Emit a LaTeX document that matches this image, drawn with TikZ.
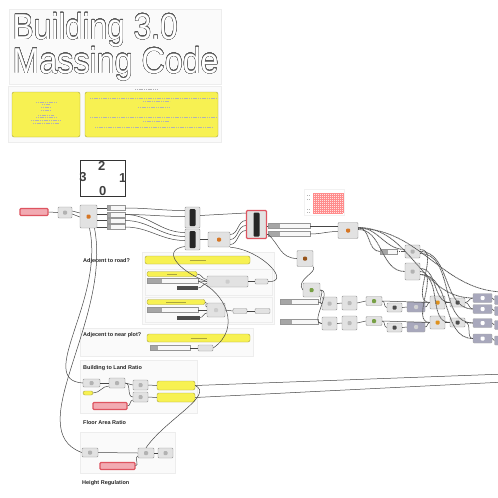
\documentclass[tikz,border=0pt]{standalone}
\usepackage{graphicx}
\usepackage{fontspec}
\setmainfont{Liberation Sans}
\usepackage[copies]{contour}
\contourlength{0.3pt}
\contournumber{24}

\definecolor{ghyellow}{RGB}{247,241,82}
\definecolor{ghyellowd}{RGB}{170,165,60}
\definecolor{ghgray}{RGB}{226,226,226}
\definecolor{ghedge}{RGB}{150,150,150}
\definecolor{ghred}{RGB}{222,84,96}
\definecolor{ghpink}{RGB}{242,170,178}
\definecolor{ghorange}{RGB}{214,118,36}
\definecolor{ghpurple}{RGB}{168,168,188}
\definecolor{ghgreen}{RGB}{120,160,70}

\tikzset{
  comp/.style={draw=ghedge, fill=ghgray, rounded corners=1pt, inner sep=0pt, line width=0.4pt},
  icon/.style={path picture={\fill[#1] ([xshift=-2pt,yshift=-2pt]path picture bounding box.center)
      rectangle ([xshift=2pt,yshift=2pt]path picture bounding box.center);}},
  stack/.style={comp, path picture={\fill[black!85] ([xshift=-3pt,yshift=-2pt]path picture bounding box.north)
      rectangle ([xshift=3pt,yshift=2pt]path picture bounding box.south);}},
  slider/.style={draw=ghedge, fill=gray!6, inner sep=0pt, minimum height=5pt,
    path picture={\fill[gray!70] (path picture bounding box.south west)
      rectangle ([xshift=#1]path picture bounding box.north west);}},
  slider/.default=12pt,
  redslider/.style={draw=ghred, line width=1.2pt, fill=ghpink, rounded corners=1pt, inner sep=0pt, minimum height=7pt},
  ybar/.style={draw=ghyellowd, fill=ghyellow, rounded corners=2pt, inner sep=0pt, line width=0.4pt,
    path picture={\draw[ghyellowd, line width=0.5pt] ([xshift=-#1]path picture bounding box.center)
      -- ([xshift=#1]path picture bounding box.center);}},
  ybar/.default=8pt,
  pbox/.style={comp, fill=ghpurple, draw=gray!70},
  grp/.style={draw=gray!14, fill=gray!4, line width=0.4pt},
  txt/.style={draw=gray!60, line width=0.4pt, dash pattern=on 1.2pt off 0.6pt},
  wire/.style={draw=gray!55!black, line width=0.5pt},
  treewire/.style={draw=black!65, line width=0.8pt, dash pattern=on 1.2pt off 0.5pt},
  lbl/.style={font=\bfseries\fontsize{5.5}{6}\selectfont, anchor=base west, inner sep=0pt, text=black!85},
  title/.style={font=\fontsize{36}{38}\selectfont, anchor=base west, inner sep=0pt, text=white},
  digit/.style={font=\bfseries\fontsize{13}{13}\selectfont, inner sep=0pt, text=black!75}
}

\begin{document}
\begin{tikzpicture}[x=1pt,y=-1pt]
  \useasboundingbox (0,0) rectangle (498,498);
  \fill[white] (0,0) rectangle (498,498);

  % groups
  \path[grp] (9,9) rectangle (221,84);
  \path[grp] (8,86) rectangle (221,142);
  \path[grp] (142,252) rectangle (274,324);
  \path[grp] (145,269) rectangle (272,295);
  \path[grp] (145,297) rectangle (272,322);
  \path[grp] (80,328) rectangle (253,356);
  \path[grp] (80,360) rectangle (197,413);
  \path[grp] (80,432) rectangle (175,473);

  % title
  \node[title] (head1) at (12.5,39) {\resizebox{165pt}{\height}{\contour{black!65}{Building 3.0}}};
  \node[title] (head2) at (12.5,73) {\resizebox{206pt}{\height}{\contour{black!65}{Massing Code}}};

  % notes
  \node[ybar=0pt, minimum width=68pt, minimum height=45pt] (note1) at (46,114.5) {};
  \node[ybar=0pt, minimum width=133pt, minimum height=45pt] (note2) at (151.5,114.5) {};
  \foreach \y/\a/\b in {102/36/56, 104/42/50, 107/41/51, 110/41/51,
                        115/38/54, 117/36/56, 120/31/61, 123/33/59}
    \draw[txt] (\a,\y) -- (\b,\y);
  \foreach \y/\a/\b in {89/135/157, 98/90/217, 101/143/170, 107/138/170,
                        117/90/217, 121/143/170, 127/95/213}
    \draw[txt] (\a,\y) -- (\b,\y);

  % plot sides
  \node[draw=black!80, line width=0.8pt, minimum width=45pt, minimum height=36pt] (plot) at (102.5,178) {};
  \node[digit] (side2) at (101.7,165.5) {2};
  \node[digit] (side3) at (83,177.5) {3};
  \node[digit] (side1) at (122.7,178.5) {1};
  \node[digit] (side0) at (102.7,191) {0};

  % top row
  \begin{scope}
    \node[redslider, minimum width=28pt] (rs1) at (34,212) {};
    \node[comp, icon=gray!60, minimum width=14pt, minimum height=11pt] (c1) at (65,212.5) {};
    \node[comp, icon=ghorange, minimum width=17pt, minimum height=23pt] (c2) at (88.5,216.5) {};
    \node[slider=4pt, minimum width=18pt] (p1) at (116,208) {};
    \node[slider=4pt, minimum width=18pt] (p2) at (116,214.5) {};
    \node[slider=4pt, minimum width=18pt] (p3) at (116,220.5) {};
    \node[slider=4pt, minimum width=18pt] (p4) at (116,227) {};
    \node[stack, minimum width=15pt, minimum height=21pt] (s1) at (192.5,217.5) {};
    \node[stack, minimum width=15pt, minimum height=21pt] (s2) at (192.5,239.5) {};
    \node[comp, icon=ghorange, minimum width=22pt, minimum height=15pt] (c3) at (219,239.5) {};
    \node[stack, draw=ghred, line width=1.3pt, minimum width=20pt, minimum height=28pt] (r1) at (256.5,224.5) {};
    \node[slider, minimum width=42pt] (lp1) at (289,226) {};
    \node[slider, minimum width=42pt] (lp2) at (289,234) {};
    \node[comp, icon=ghorange, minimum width=20pt, minimum height=16pt] (c4) at (348,230.5) {};
    \node[draw=gray!10, fill=white, minimum width=40pt, minimum height=26pt] (g1) at (324,202.5) {};
    \fill[red!12] (313,193) rectangle (343,213);
    \foreach \k in {0,...,15} \draw[red!45, line width=0.3pt] (313+2*\k,193) -- (313+2*\k,213);
    \foreach \k in {0,...,10} \draw[red!45, line width=0.3pt] (313,193+2*\k) -- (343,193+2*\k);
    \foreach \y in {195,199,209,212} \draw[txt] (307,\y) -- (310,\y);
    \node[comp, icon=ghorange!70!black, minimum width=16pt, minimum height=16pt] (c5) at (305,258.5) {};
    \node[comp, icon=ghgreen, minimum width=17pt, minimum height=14pt] (c6) at (311.5,290) {};
    \node[slider=8pt, minimum width=17pt] (sl3) at (388.5,251.5) {};
    \node[comp, icon=gray!60, minimum width=15pt, minimum height=13pt] (t1) at (412.5,251.5) {};
    \node[comp, icon=gray!60, minimum width=15pt, minimum height=17pt] (t2) at (412.5,271.5) {};
  \end{scope}

  % rows
  \foreach \r/\dy in {a/0,b/20} {
    \node[slider, minimum width=38pt] (\r0) at (299,302+\dy) {};
    \node[comp, icon=gray!55, minimum width=15pt, minimum height=13pt] (\r1) at (329.5,303.5+\dy) {};
    \node[comp, icon=gray!55, minimum width=15pt, minimum height=14pt] (\r2) at (349.5,303+\dy) {};
    \node[comp, icon=ghgreen, minimum width=16pt, minimum height=9pt] (\r3) at (374,301+\dy) {};
    \node[comp, icon=gray!60!black, minimum width=15pt, minimum height=9pt] (\r4) at (394.5,307.5+\dy) {};
    \node[pbox, icon=gray!35, minimum width=18pt, minimum height=10pt] (\r5) at (416,307+\dy) {};
    \node[comp, icon=ghorange!80!yellow, minimum width=15pt, minimum height=13pt] (\r6) at (437.5,302.5+\dy) {};
    \node[comp, icon=gray!60!black, minimum width=15pt, minimum height=9pt] (\r7) at (457.5,302.5+\dy) {};
    \path (\r0.east) edge[wire] (\r1.west)
          (\r1.east) edge[wire] (\r2.west)
          (\r2.east) edge[wire, out=0, in=180] (\r3.west)
          (\r3.east) edge[wire] (\r6.west)
          (\r3.east) edge[wire, out=0, in=180] (\r4.west)
          (\r4.east) edge[wire] (\r5.west)
          (\r5.east) edge[wire, out=0, in=180] (\r6.west)
          (\r6.east) edge[wire, out=0, in=180] (\r7.west);
  }
  \foreach \n/\y in {1/298,2/309,3/323,4/338.5} {
    \node[pbox, icon=white, minimum width=19pt, minimum height=9pt] (rb\n) at (482.5,\y) {};
    \node[pbox, minimum width=19pt, minimum height=9pt] (rx\n) at (504,\y+2) {};
  }

  % adjacent to road
  \node[lbl] (lroad) at (83,262) {Adjecent to road?};
  \node[ybar, minimum width=105pt, minimum height=8pt] (y1) at (197.5,260) {};
  \node[ybar=5pt, minimum width=50pt, minimum height=5pt] (y2) at (172,274) {};
  \node[slider=15pt, minimum width=51pt] (s3) at (172.5,281) {};
  \node[comp, icon=gray!40, minimum width=41pt, minimum height=11pt] (d1) at (227.5,281.5) {};
  \node[comp, minimum width=13pt, minimum height=5pt] (e1) at (261.5,281.5) {};
  \node[fill=gray!60!black, inner sep=0pt, minimum width=21pt, minimum height=4pt] (k1) at (187.5,288) {};
  \node[ybar=10pt, minimum width=58pt, minimum height=5pt] (y3) at (176,302) {};
  \node[slider=15pt, minimum width=51pt] (s4) at (172.5,310) {};
  \node[comp, icon=gray!40, minimum width=18pt, minimum height=14pt] (d2) at (216,310) {};
  \node[comp, minimum width=14pt, minimum height=5pt] (e2) at (240,311) {};
  \node[comp, minimum width=15pt, minimum height=5pt] (e3) at (262.5,311) {};
  \node[fill=gray!60!black, inner sep=0pt, minimum width=23pt, minimum height=4pt] (k2) at (188.5,317.5) {};

  % adjacent to near plot
  \node[lbl] (lnear) at (83,336) {Adjecent to near plot?};
  \node[ybar, minimum width=103pt, minimum height=8pt] (y4) at (198.5,338) {};
  \node[slider=8pt, minimum width=40pt] (s5) at (170,348) {};
  \node[comp, minimum width=15pt, minimum height=6pt] (e4) at (205.5,348) {};

  % building to land ratio
  \node[lbl] (lland) at (83,369) {Building to Land Ratio};
  \node[comp, icon=gray!60, minimum width=17pt, minimum height=8pt] (f1) at (91.5,383) {};
  \node[ybar=0pt, minimum width=10pt, minimum height=4pt] (yb) at (88,393) {};
  \node[comp, icon=gray!60, minimum width=16pt, minimum height=10pt] (f2) at (117,383) {};
  \node[comp, icon=gray!60, minimum width=15pt, minimum height=10pt] (f3) at (140.5,385) {};
  \node[comp, icon=gray!60, minimum width=15pt, minimum height=10pt] (f4) at (140.5,397) {};
  \node[ybar=0pt, minimum width=38pt, minimum height=9pt] (yp1) at (176,385.5) {};
  \node[ybar=0pt, minimum width=38pt, minimum height=9pt] (yp2) at (176,397.5) {};
  \node[redslider, minimum width=34pt] (rs2) at (110,406) {};

  % floor area ratio
  \node[lbl] (lfloor) at (83,424) {Floor Area Ratio};
  \node[comp, icon=gray!60, minimum width=16pt, minimum height=9pt] (h1) at (90,452.5) {};
  \node[comp, icon=gray!60, minimum width=16pt, minimum height=10pt] (h2) at (146,453) {};
  \node[comp, icon=gray!60, minimum width=15pt, minimum height=10pt] (h3) at (165.5,453) {};
  \node[redslider, minimum width=35pt] (rs3) at (117.5,466) {};

  \node[lbl] (lheight) at (82,484) {Height Regulation};

  \coordinate (out1) at (505,374);
  \coordinate (out2) at (505,382);
  \coordinate (out3) at (505,292);

  % wires top row
  \path (rs1.east) edge[wire] (c1.west)
        ([yshift=1.5pt]c1.east) edge[wire] ([yshift=3.5pt]c2.west)
        ([yshift=-1.5pt]c1.east) edge[wire] ([yshift=-0.5pt]c2.west)
        ([yshift=8.5pt]c2.east) edge[wire] (p1.west)
        ([yshift=2pt]c2.east) edge[wire] (p2.west)
        ([yshift=-4pt]c2.east) edge[wire] (p3.west)
        ([yshift=-10.5pt]c2.east) edge[wire] (p4.west)
        (p1.east) edge[wire, out=0, in=180] ([yshift=7pt]s1.west)
        (p2.east) edge[wire, out=0, in=180] ([yshift=1pt]s1.west)
        (p2.east) edge[wire, out=0, in=180] ([yshift=7pt]s2.west)
        (p3.east) edge[wire, out=0, in=180] ([yshift=3pt]s2.west)
        (p4.east) edge[wire, out=0, in=180] ([yshift=-1pt]s2.west)
        ([yshift=2pt]s1.east) edge[wire] ([yshift=11.5pt]r1.west)
        (s2.east) edge[wire] (c3.west)
        ([yshift=5pt]c3.east) edge[wire, out=0, in=180] ([yshift=4pt]r1.west)
        (c3.east) edge[wire, out=0, in=180] ([yshift=-1pt]r1.west)
        ([yshift=-5pt]c3.east) edge[wire, out=0, in=180] ([yshift=-6pt]r1.west)
        ([yshift=-1.5pt]r1.east) edge[wire] (lp1.west)
        ([yshift=-9.5pt]r1.east) edge[wire] (lp2.west)
        (lp1.east) edge[wire] ([yshift=4.5pt]c4.west)
        (lp2.east) edge[wire, out=0, in=180] ([yshift=-1pt]c4.west)
        (c6.east) edge[wire, out=0, in=180] (a1.west)
        (c6.east) edge[wire, out=0, in=180] (b1.west);
  \draw[wire] (lp2.west) .. controls (280,245) and (280,258) .. (c5.west);
  \draw[wire] (c5.south east) .. controls (318,272) and (295,280) .. (c6.west);

  % tree wires right
  \path ([yshift=3pt]c4.east) edge[treewire, out=0, in=180] (sl3.west)
        (sl3.east) edge[treewire] (t1.west)
        ([yshift=3pt]c4.east) edge[treewire, out=0, in=180] ([yshift=2pt]t1.west)
        ([yshift=1pt]c4.east) edge[treewire, out=0, in=180] (t2.west)
        ([yshift=3pt]c4.east) edge[treewire, out=0, in=180] (rb1.west)
        ([yshift=2pt]c4.east) edge[treewire, out=0, in=180] (out3)
        ([yshift=2pt]t1.east) edge[treewire, out=0, in=180] (a6.west)
        (t1.east) edge[treewire, out=0, in=180] (rb2.west)
        ([yshift=-2pt]t1.east) edge[treewire, out=0, in=180] (rb3.west)
        ([yshift=3pt]t2.east) edge[treewire, out=0, in=180] (a7.west)
        (t2.east) edge[treewire, out=0, in=180] (b6.west)
        ([yshift=-3pt]t2.east) edge[treewire, out=0, in=180] (rb4.west)
        ([yshift=-3pt]t2.east) edge[treewire, out=0, in=180] (b7.west)
        (a7.east) edge[wire, out=0, in=180] (rb1.west)
        (a7.east) edge[wire, out=0, in=180] (rb2.west)
        (b7.east) edge[wire, out=0, in=180] (rb3.west)
        (b7.east) edge[wire, out=0, in=180] (rb4.west)
        (rb1.east) edge[wire] (rx1.west)
        (rb2.east) edge[wire] (rx2.west)
        (rb3.east) edge[wire] (rx3.west)
        (rb4.east) edge[wire] (rx4.west);

  % wires middle
  \draw[wire] ([yshift=-7pt]s2.west) .. controls (160,250) and (180,272) .. (d1.west);
  \draw[wire] (c3.south east) .. controls (262,250) and (292,283) .. (e1.east);
  \path (y2.east) edge[wire, out=0, in=180] ([yshift=2pt]d1.west)
        (s3.east) edge[wire] (d1.west)
        (k1.east) edge[wire, out=0, in=180] ([yshift=-2pt]d1.west)
        (d1.east) edge[wire] (e1.west)
        (y3.east) edge[wire, out=0, in=180] ([yshift=3pt]d2.west)
        (s4.east) edge[wire] (d2.west)
        (k2.east) edge[wire, out=0, in=180] ([yshift=-3pt]d2.west)
        (d2.east) edge[wire] (e2.west)
        (e2.east) edge[wire] (e3.west)
        (s5.east) edge[wire] (e4.west);
  \draw[wire] (s3.east) .. controls (225,292) and (242,328) .. (e4.east);

  % wires ratios
  \draw[wire] ([xshift=1pt]c2.south) .. controls (105,300) and (35,380) .. (f1.west);
  \draw[wire] ([xshift=6pt]c2.south) .. controls (112,320) and (20,430) .. (h1.west);
  \path (f1.east) edge[wire] (f2.west)
        (yb.east) edge[wire, out=0, in=180] ([yshift=-3pt]f2.west)
        (f2.east) edge[wire, out=0, in=180] (f3.west)
        (f2.east) edge[wire, out=0, in=180] (f4.west)
        (rs2.east) edge[wire, out=0, in=180] ([yshift=-3pt]f4.west)
        (f3.east) edge[wire] (yp1.west)
        (f4.east) edge[wire] (yp2.west)
        (yp1.east) edge[wire] (out1)
        (yp2.east) edge[wire] (out2)
        (h1.east) edge[wire] (h2.west)
        (rs3.east) edge[wire, out=0, in=180] ([yshift=-3pt]h2.west)
        (h2.east) edge[wire] (h3.west);
  \draw[wire] (h2.north) .. controls (165,420) and (215,395) .. (yp1.east);
\end{tikzpicture}
\end{document}
